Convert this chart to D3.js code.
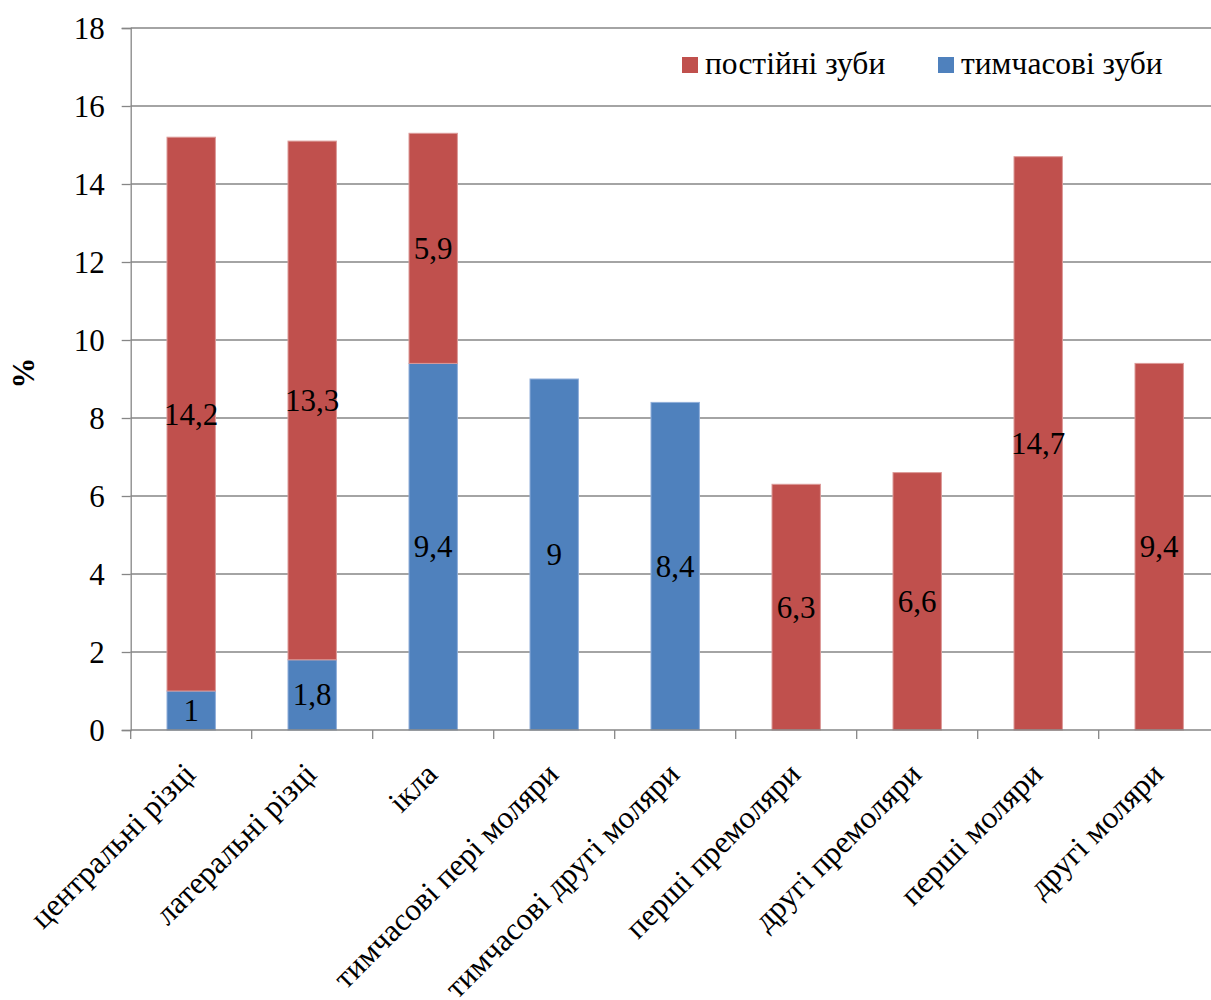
<!DOCTYPE html>
<html>
<head>
<meta charset="utf-8">
<script src="https://cdn.jsdelivr.net/npm/d3@7"></script>
<style>
  html, body { margin: 0; padding: 0; background: #fff; }
  svg { display: block; }
</style>
</head>
<body>
<svg id="chart" width="1211" height="1000"></svg>
<script>
// Tooth groups along the x axis
const categories = [
  "центральні різці",
  "латеральні різці",
  "ікла",
  "тимчасові пері моляри",
  "тимчасові другі моляри",
  "перші премоляри",
  "другі премоляри",
  "перші моляри",
  "другі моляри"
];
// Primary teeth (bottom segment), %
const temporaryTeeth = [1, 1.8, 9.4, 9, 8.4, null, null, null, null];
// Permanent teeth (stacked on top), %
const permanentTeeth = [14.2, 13.3, 5.9, null, null, 6.3, 6.6, 14.7, 9.4];
// Y axis ticks
const yTicks = [0, 2, 4, 6, 8, 10, 12, 14, 16, 18];

const seriesNames = ["тимчасові зуби", "постійні зуби"];
const colors = { "тимчасові зуби": "#4F81BD", "постійні зуби": "#C0504D" };
const strokes = { "тимчасові зуби": "#8FAEDA", "постійні зуби": "#DC9A98" };
const serif = "'Liberation Serif'";

const svg = d3.select("#chart");
const plotLeft = 130.7, plotRight = 1219.7, plotTop = 28, plotBottom = 730;

const x = d3.scaleBand().domain(categories).range([plotLeft, plotRight])
  .paddingInner(0.6).paddingOuter(0.3);
const y = d3.scaleLinear().domain([0, 18]).range([plotBottom, plotTop]);

const rows = categories.map((c, i) => ({
  cat: c,
  "тимчасові зуби": temporaryTeeth[i] || 0,
  "постійні зуби": permanentTeeth[i] || 0
}));
const stacked = d3.stack().keys(seriesNames)(rows);

// Horizontal gridlines
svg.append("g").selectAll("line").data(yTicks.filter(d => d > 0)).join("line")
  .attr("x1", plotLeft).attr("x2", 1211)
  .attr("y1", d => y(d)).attr("y2", d => y(d))
  .attr("stroke", "#868686").attr("stroke-width", 1.3);

// Y axis
const yAxis = svg.append("g").attr("transform", `translate(${plotLeft},0)`)
  .call(d3.axisLeft(y).tickValues(yTicks).tickSize(9).tickPadding(17).tickFormat(d3.format("d")));
yAxis.attr("font-family", null).attr("font-size", null);
yAxis.select(".domain").attr("stroke", "#868686").attr("stroke-width", 1.3);
yAxis.selectAll(".tick line").attr("stroke", "#868686").attr("stroke-width", 1.3);
yAxis.selectAll(".tick text")
  .style("font-family", serif).style("font-size", "31px").attr("fill", "#000").attr("dy", "0.34em");

// Bars
const groups = svg.append("g").selectAll("g").data(stacked).join("g")
  .attr("fill", d => colors[d.key]).attr("stroke", d => strokes[d.key]).attr("stroke-width", 1);
groups.selectAll("rect").data(d => d.filter(p => p[1] - p[0] > 0)).join("rect")
  .attr("x", d => x(d.data.cat))
  .attr("width", x.bandwidth())
  .attr("y", d => y(d[1]))
  .attr("height", d => y(d[0]) - y(d[1]));

// X axis baseline and ticks at the category boundaries
svg.append("line").attr("x1", plotLeft).attr("x2", 1211).attr("y1", plotBottom).attr("y2", plotBottom)
  .attr("stroke", "#868686").attr("stroke-width", 1.3);
const boundaries = d3.range(categories.length + 1).map(i => plotLeft + i * x.step());
svg.append("g").selectAll("line").data(boundaries).join("line")
  .attr("x1", d => d).attr("x2", d => d).attr("y1", plotBottom).attr("y2", plotBottom + 9)
  .attr("stroke", "#868686").attr("stroke-width", 1.3);

// Segment value labels
const fmt = v => String(Math.round(v * 10) / 10).replace(".", ",");
stacked.forEach(s => {
  svg.append("g").selectAll("text").data(s.filter(p => p[1] - p[0] > 0)).join("text")
    .attr("x", d => x(d.data.cat) + x.bandwidth() / 2)
    .attr("y", d => y((d[0] + d[1]) / 2))
    .attr("dy", "0.34em")
    .attr("text-anchor", "middle")
    .style("font-family", serif).style("font-size", "31px")
    .text(d => fmt(d[1] - d[0]));
});

// Category labels, rotated
svg.append("g").selectAll("text").data(categories).join("text")
  .attr("transform", d => `translate(${x(d) + x.bandwidth() / 2 + 6},${plotBottom + 46}) rotate(-45)`)
  .attr("text-anchor", "end")
  .style("font-family", serif).style("font-size", "31.5px")
  .text(d => d);

// Y axis title
svg.append("text")
  .attr("transform", "translate(34,373) rotate(-90)")
  .attr("text-anchor", "middle")
  .style("font-family", serif).style("font-size", "31px").style("font-weight", "bold")
  .text("%");

// Legend
const legend = [
  { name: "постійні зуби", x: 682 },
  { name: "тимчасові зуби", x: 938 }
];
const lg = svg.append("g").selectAll("g").data(legend).join("g")
  .attr("transform", d => `translate(${d.x},57)`);
lg.append("rect").attr("width", 16).attr("height", 16).attr("fill", d => colors[d.name]);
lg.append("text").attr("x", 23).attr("y", 17)
  .style("font-family", serif).style("font-size", "31.5px").text(d => d.name);
</script>
</body>
</html>
